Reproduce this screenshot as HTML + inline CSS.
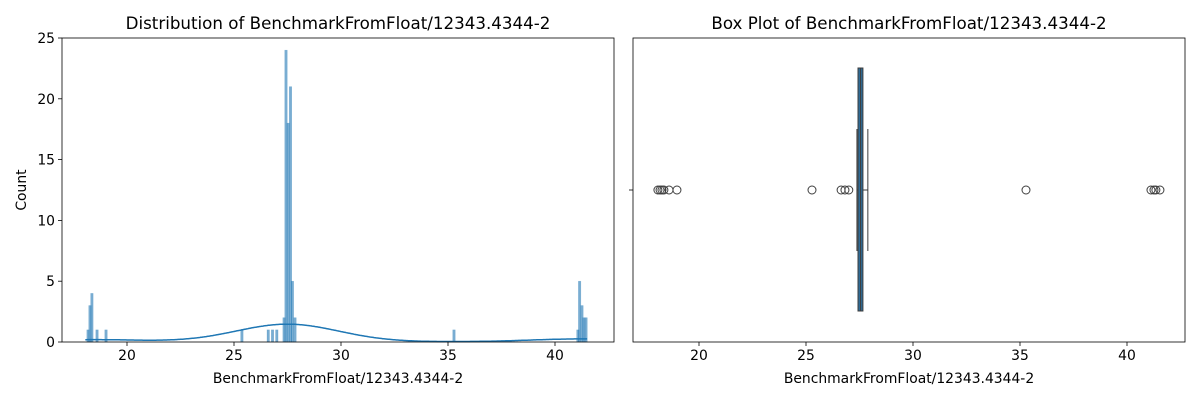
<!DOCTYPE html>
<html><head><meta charset="utf-8"><style>
body{margin:0;background:#fff;}
svg{display:block;font-family:"DejaVu Sans","Liberation Sans",sans-serif;}
</style></head><body>
<svg id="c" width="1200" height="400"></svg>
<script>
const binCenters=[18.18,18.27,18.36,18.6,19.02,25.37,26.6,26.8,27.0,27.34,27.43,27.53,27.64,27.73,27.85,35.28,41.07,41.15,41.26,41.35,41.45];
const binCounts=[1,3,4,1,1,1,1,1,1,2,24,18,21,5,2,1,1,5,3,2,2];
const xTicks=[20,25,30,35,40];
const yTicks=[0,5,10,15,20,25];
const boxStats=[27.38,27.43,27.55,27.66,27.89];
const outliers=[18.08,18.18,18.27,18.36,18.6,18.97,25.28,26.64,26.82,27.0,35.28,41.12,41.26,41.35,41.54];
const NS="http://www.w3.org/2000/svg";
const svg=document.getElementById('c');
function mk(t,a,p){const e=document.createElementNS(NS,t);for(const k in a)e.setAttribute(k,a[k]);(p||svg).appendChild(e);return e;}
const L={x0:62,x1:614,y0:38,y1:342},R={x0:633,x1:1185,y0:38,y1:342};
const xs1=v=>127+(v-20)*21.4, xs2=v=>699+(v-20)*21.4, ys=v=>342-v*12.16;
const bw=0.117;
binCenters.forEach((c,i)=>{const r=mk('rect',{x:xs1(c-bw/2),y:ys(binCounts[i]),width:bw*21.4,height:binCounts[i]*12.16,fill:'#1f77b4','fill-opacity':0.6,stroke:'#1f77b4','stroke-opacity':0.3,'stroke-width':0.5});

});
let N=0;binCounts.forEach(c=>N+=c);const h=2.4;let d='';
for(let x=18.05;x<=41.5;x+=0.05){let s=0;binCenters.forEach((c,i)=>{s+=binCounts[i]*Math.exp(-0.5*((x-c)/h)**2);});const y=s/(h*Math.sqrt(2*Math.PI))*bw;d+=(d?'L':'M')+xs1(x).toFixed(1)+','+ys(y).toFixed(1);}
const kde=mk('path',{d:d,fill:'none',stroke:'#1f77b4','stroke-width':1.5});


const [wl,q1,md,q3,wh]=boxStats;const cy=190;
mk('line',{x1:xs2(wl),x2:xs2(q1),y1:cy,y2:cy,stroke:'#3d3d3d','stroke-width':1});
mk('line',{x1:xs2(q3),x2:xs2(wh),y1:cy,y2:cy,stroke:'#3d3d3d','stroke-width':1});
mk('line',{x1:xs2(wl),x2:xs2(wl),y1:129,y2:251,stroke:'#3d3d3d','stroke-width':1});
mk('line',{x1:xs2(wh),x2:xs2(wh),y1:129,y2:251,stroke:'#3d3d3d','stroke-width':1});
const bx=mk('rect',{x:xs2(q1),y:68,width:xs2(q3)-xs2(q1),height:243,fill:'#2f6b96',stroke:'#3d3d3d','stroke-width':1});


mk('line',{x1:xs2(md),x2:xs2(md),y1:68,y2:311,stroke:'#3d3d3d','stroke-width':1});
outliers.forEach(v=>{const c=mk('circle',{cx:xs2(v),cy:cy,r:4,fill:'none',stroke:'#3d3d3d','stroke-width':1});

});
[[L,xs1,'Distribution of BenchmarkFromFloat/12343.4344-2'],[R,xs2,'Box Plot of BenchmarkFromFloat/12343.4344-2']].forEach(([A,xs,t],k)=>{
mk('rect',{x:A.x0,y:A.y0,width:A.x1-A.x0,height:A.y1-A.y0,fill:'none',stroke:'#000','stroke-width':0.8});
xTicks.forEach(v=>{mk('line',{x1:xs(v),x2:xs(v),y1:A.y1,y2:A.y1+4,stroke:'#000','stroke-width':0.8});
const tx=mk('text',{x:xs(v),y:A.y1+18,'text-anchor':'middle','font-size':13.9});tx.textContent=v;});
const xl=mk('text',{x:(A.x0+A.x1)/2,y:383,'text-anchor':'middle','font-size':13.9});xl.textContent='BenchmarkFromFloat/12343.4344-2';


const ti=mk('text',{x:(A.x0+A.x1)/2,y:29,'text-anchor':'middle','font-size':16.7});ti.textContent=t;


});
yTicks.forEach(v=>{mk('line',{x1:58,x2:62,y1:ys(v),y2:ys(v),stroke:'#000','stroke-width':0.8});
const tx=mk('text',{x:55,y:ys(v)+5,'text-anchor':'end','font-size':13.9});tx.textContent=v;});
mk('line',{x1:629,x2:633,y1:190,y2:190,stroke:'#000','stroke-width':0.8});
const yl=mk('text',{x:26,y:190,'text-anchor':'middle','font-size':13.9,transform:'rotate(-90 26 190)'});yl.textContent='Count';


</script>
</body></html>
